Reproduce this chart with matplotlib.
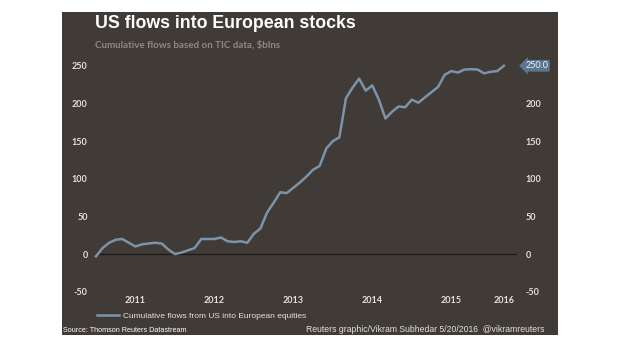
import matplotlib
matplotlib.use("Agg")
import matplotlib.pyplot as plt
import pandas as pd

# monthly cumulative flows, $bln, Jan 2011 - Mar 2016
flows = [-3, 8, 15, 19, 20, 15, 10, 13, 14, 15, 14, 6,
         0, 2, 5, 8, 20, 20, 20, 22, 17, 16, 17, 15,
         27, 34, 55, 68, 82, 81, 88, 95, 103, 112, 117, 140,
         150, 155, 207, 221, 233, 217, 224, 205, 180, 189, 196, 195,
         205, 201, 208, 215, 222, 238, 243, 241, 245, 245.5, 245, 240,
         242, 243, 250]
start_month = "2011-01"
year_labels = ["2011", "2012", "2013", "2014", "2015", "2016"]
left_ticks = [-50, 0, 50, 100, 150, 200, 250]
right_ticks = [-50, 0, 50, 100, 150, 200]

BG = "#403b36"
LINE = "#7c93aa"
TXT = "#e4e1dc"
SANS = ["Liberation Sans Narrow", "Liberation Sans"]


def main():
	dates = pd.date_range(start_month, periods=len(flows), freq="MS")
	x = list(range(len(flows)))

	# year label sits on July of each year (or last month if year is cut short)
	year_pos = []
	for y in year_labels:
		idx = [i for i, d in enumerate(dates) if d.year == int(y)]
		year_pos.append(min(idx[0] + 6, idx[-1]))

	fig = plt.figure(figsize=(6.2, 3.55), dpi=100, facecolor="white")

	# dark panel behind everything
	bg = fig.add_axes([62 / 620, 1 - 335 / 355, 496 / 620, 323 / 355], zorder=-1)
	bg.set_facecolor(BG)
	bg.set_xticks([])
	bg.set_yticks([])
	for s in bg.spines.values():
		s.set_visible(False)

	ax = fig.add_axes([96 / 620, 1 - 291.7 / 355, 421 / 620, 225.9 / 355])
	ax.set_facecolor("none")
	ax.set_xlim(0, 64)
	ax.set_ylim(-50, 250)

	line, = ax.plot(x, flows, color=LINE, linewidth=1.8, clip_on=False, zorder=3,
					label="Cumulative flows from US into European equities")
	ax.axhline(0, color="#1c1a18", linewidth=0.9, zorder=2)

	for s in ax.spines.values():
		s.set_visible(False)
	ax.set_xticks(year_pos)
	ax.set_xticklabels(year_labels)
	ax.set_yticks(left_ticks)
	ax.set_yticklabels([str(t) for t in left_ticks])
	ax.tick_params(length=0, colors=TXT, labelsize=6.5)
	ax.tick_params(axis="y", pad=6)
	ax.tick_params(axis="x", pad=3)
	for lab in ax.get_xticklabels() + ax.get_yticklabels():
		lab.set_family("Lato")
		lab.set_fontweight("bold")

	ax2 = ax.twinx()
	ax2.set_ylim(-50, 250)
	ax2.set_yticks(right_ticks)
	ax2.set_yticklabels([str(t) for t in right_ticks])
	ax2.tick_params(length=0, colors=TXT, labelsize=6.5, pad=6)
	for s in ax2.spines.values():
		s.set_visible(False)
	for lab in ax2.get_yticklabels():
		lab.set_family("Lato")
		lab.set_fontweight("bold")

	# last value callout
	ax.annotate(f"{flows[-1]:.1f}", xy=(1, flows[-1]), xycoords=("axes fraction", "data"),
				xytext=(6, 0), textcoords="offset points", ha="left", va="center",
				fontsize=6.5, family="Lato", color="#eef2f6", zorder=5,
				bbox=dict(boxstyle="larrow,pad=0.15", fc="#5a7691", ec="none"))

	fig.text(95 / 620, 1 - 23 / 355, "US flows into European stocks", fontsize=12.8,
			 fontweight="bold", color="white", family="Liberation Sans", va="center")
	fig.text(95 / 620, 1 - 45 / 355, "Cumulative flows based on TIC data, $blns", fontsize=7,
			 fontweight="bold", color="#8e8983", family="Lato", va="center")

	leg = fig.legend(handles=[line], loc="center left", bbox_to_anchor=(97 / 620, 1 - 316 / 355),
					 frameon=False, handlelength=2.6, handletextpad=0.5, borderpad=0,
					 borderaxespad=0, prop={"family": SANS, "size": 6})
	for t in leg.get_texts():
		t.set_color(TXT)

	fig.text(63 / 620, 1 - 330 / 355, "Source: Thomson Reuters Datastream", fontsize=5.2,
			 color="white", family=SANS, va="center")
	fig.text(544 / 620, 1 - 329 / 355, "Reuters graphic/Vikram Subhedar 5/20/2016  @vikramreuters",
			 fontsize=6.2, color=TXT, family=SANS, ha="right", va="center")

	fig.savefig("out.png", dpi=100, facecolor="white")


if __name__ == "__main__":
	main()
